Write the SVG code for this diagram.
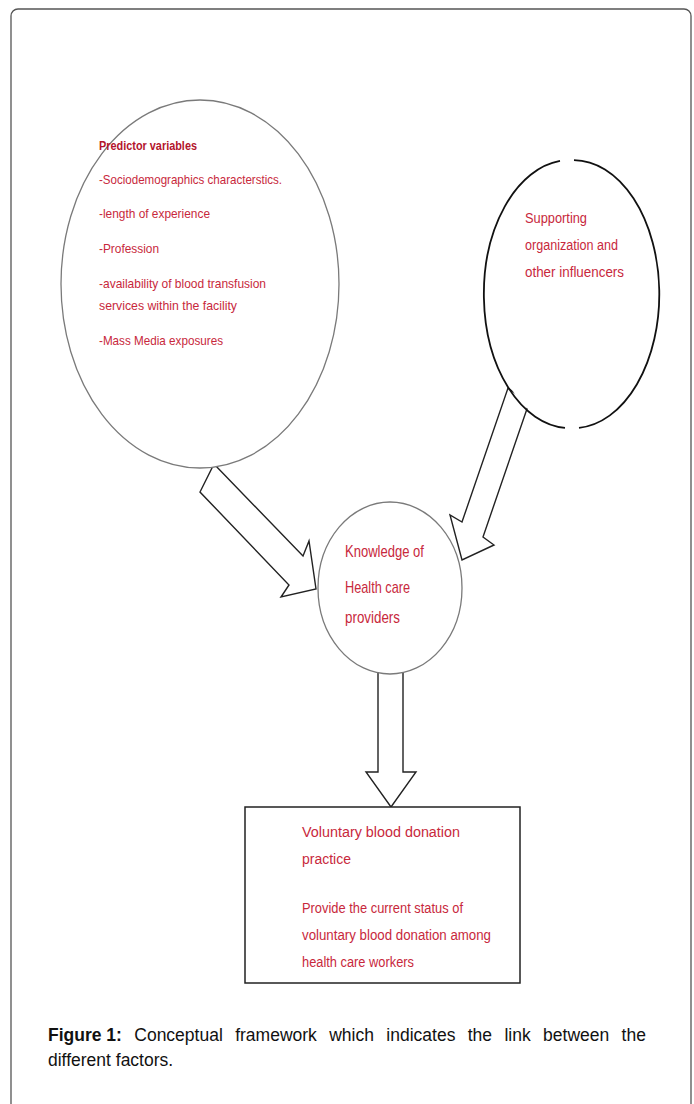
<svg xmlns="http://www.w3.org/2000/svg" width="694" height="1104" viewBox="0 0 694 1104">
<style>
.frame{fill:#fff;stroke:#555;stroke-width:1.3}
.ell{fill:#fff;stroke:#7a7a7a;stroke-width:1.3}
.dash{fill:none;stroke:#111;stroke-width:1.8}
.arrow{fill:#fff;stroke:#222;stroke-width:1.4;stroke-linejoin:miter}
.box{fill:#fff;stroke:#222;stroke-width:1.5}
.t{font-family:"Liberation Sans Narrow","Liberation Sans",Arial,sans-serif;fill:#c8283c}
.s{font-size:13px}
.m{font-size:15.5px}
.k{font-size:17px}
.b{font-weight:bold;fill:#b3142c}
.cap{font-family:"Liberation Sans",Arial,sans-serif;font-size:17.5px;fill:#111}
</style>
<rect class="frame" x="11" y="9" width="680" height="1110" rx="7"/>
<g id="connectors">
<polygon class="arrow" points="214,464 303,556 309,541 316,589 281,597 289,585 200,492"/>
<polygon class="arrow" points="508,388 529,403 483,537 494,545 462,560 450,515 462,522"/>
<polygon class="arrow" points="378,668 403,668 403,772 416,772 391,807 366,772 378,772"/>
</g>
<g id="predictors">
<ellipse class="ell" cx="200" cy="284" rx="139" ry="184"/>
<text class="t s b" x="99" y="150" textLength="98" lengthAdjust="spacingAndGlyphs">Predictor variables</text>
<text class="t s" x="99" y="184" textLength="183" lengthAdjust="spacingAndGlyphs">-Sociodemographics characterstics.</text>
<text class="t s" x="99" y="218" textLength="111" lengthAdjust="spacingAndGlyphs">-length of experience</text>
<text class="t s" x="99" y="253" textLength="60" lengthAdjust="spacingAndGlyphs">-Profession</text>
<text class="t s" x="99" y="288" textLength="167" lengthAdjust="spacingAndGlyphs">-availability of blood transfusion</text>
<text class="t s" x="99" y="310" textLength="138" lengthAdjust="spacingAndGlyphs">services  within the facility</text>
<text class="t s" x="99" y="345" textLength="124" lengthAdjust="spacingAndGlyphs">-Mass Media exposures</text>
</g>
<g id="supporting">
<ellipse cx="572" cy="294" rx="86" ry="134" fill="#fff"/>
<path class="dash" d="M574,160.1 A86,134 0 0 1 579,427.8 M565,427.8 A86,134 0 0 1 560,160.9"/>
<text class="t m" x="525" y="223" textLength="62" lengthAdjust="spacingAndGlyphs">Supporting</text>
<text class="t m" x="525" y="250" textLength="93" lengthAdjust="spacingAndGlyphs">organization and</text>
<text class="t m" x="525" y="277" textLength="99" lengthAdjust="spacingAndGlyphs">other influencers</text>
</g>
<g id="knowledge">
<ellipse class="ell" cx="390" cy="588" rx="72" ry="86"/>
<text class="t k" x="345" y="557" textLength="79" lengthAdjust="spacingAndGlyphs">Knowledge of</text>
<text class="t k" x="345" y="593" textLength="65" lengthAdjust="spacingAndGlyphs">Health care</text>
<text class="t k" x="345" y="623" textLength="55" lengthAdjust="spacingAndGlyphs">providers</text>
</g>
<g id="practice">
<rect class="box" x="245" y="807" width="275" height="176"/>
<text class="t m" x="302" y="837" textLength="158" lengthAdjust="spacingAndGlyphs">Voluntary blood donation</text>
<text class="t m" x="302" y="864" textLength="49" lengthAdjust="spacingAndGlyphs">practice</text>
<text class="t m" x="302" y="913" textLength="161" lengthAdjust="spacingAndGlyphs">Provide the current status of</text>
<text class="t m" x="302" y="940" textLength="189" lengthAdjust="spacingAndGlyphs">voluntary blood donation  among</text>
<text class="t m" x="302" y="967" textLength="112" lengthAdjust="spacingAndGlyphs">health care workers</text>
</g>
<g id="caption">
<text class="cap" x="48" y="1041" word-spacing="7.5"><tspan font-weight="bold" word-spacing="0">Figure 1:</tspan> Conceptual framework which indicates the link between the</text>
<text class="cap" x="48" y="1066">different factors.</text>
</g>
</svg>
